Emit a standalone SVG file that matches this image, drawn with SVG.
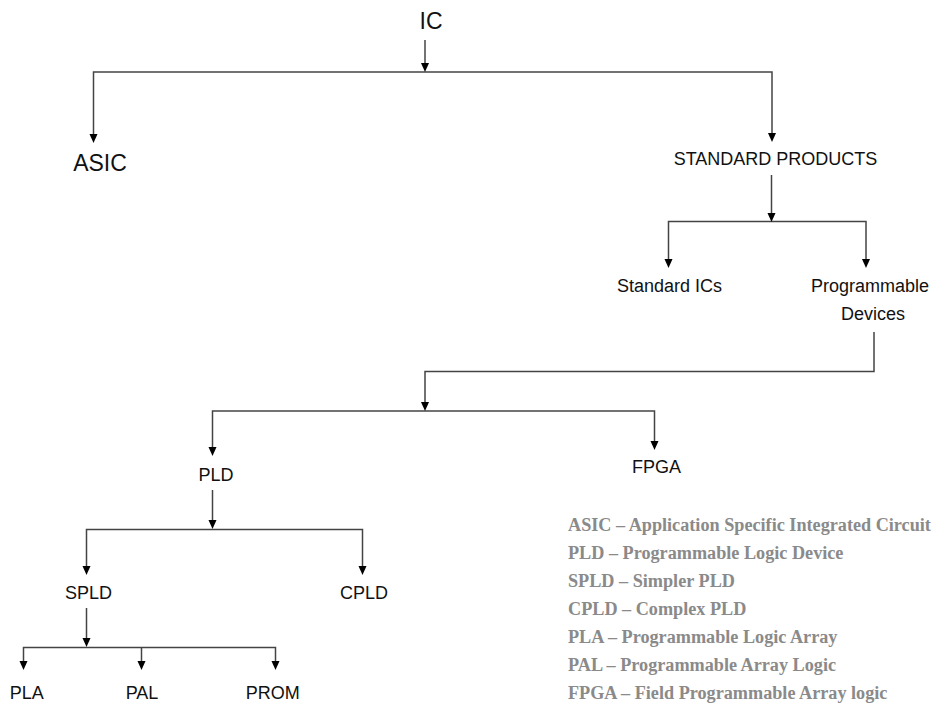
<svg xmlns="http://www.w3.org/2000/svg" width="936" height="704" viewBox="0 0 936 704">
  <style>
    .node { font-family: "Liberation Sans", Arial, sans-serif; fill: #111; text-anchor: middle; }
    .big { font-size: 23px; }
    .med { font-size: 18px; }
    .legend { font-family: "Liberation Serif", "Times New Roman", serif; font-weight: bold; font-size: 18.2px; fill: #8a8a8a; }
    .conn { fill: none; stroke: #444; stroke-width: 1.5; }
    .head { fill: #000; }
  </style>
  <rect width="936" height="704" fill="#fff"/>

  <g id="connectors">
    <path class="conn" d="M425,40 V64"/>
    <path class="conn" d="M93.5,134 V72 H772 V134"/>
    <path class="conn" d="M771.5,175 V213"/>
    <path class="conn" d="M668.5,260 V221.5 H866 V260"/>
    <path class="conn" d="M874,332 V371.5 H425 V403"/>
    <path class="conn" d="M212.5,448 V411 H654.5 V443"/>
    <path class="conn" d="M212.5,490 V520"/>
    <path class="conn" d="M86.5,567 V529.5 H362.5 V567"/>
    <path class="conn" d="M86.5,608 V639"/>
    <path class="conn" d="M23.5,662 V647.5 H275.5 V662"/>
    <path class="conn" d="M141.5,647.5 V662"/>
    <g class="head">
      <path d="M421,63 L429,63 L425,72 Z"/>
      <path d="M89.5,134 L97.5,134 L93.5,143 Z"/>
      <path d="M768,133 L776,133 L772,142 Z"/>
      <path d="M767.5,213 L775.5,213 L771.5,222 Z"/>
      <path d="M664.5,259 L672.5,259 L668.5,268 Z"/>
      <path d="M862,259 L870,259 L866,268 Z"/>
      <path d="M421,402 L429,402 L425,411 Z"/>
      <path d="M208.5,447 L216.5,447 L212.5,456 Z"/>
      <path d="M650.5,441 L658.5,441 L654.5,450 Z"/>
      <path d="M208.5,520 L216.5,520 L212.5,529 Z"/>
      <path d="M82.5,566 L90.5,566 L86.5,575 Z"/>
      <path d="M358.5,566 L366.5,566 L362.5,575 Z"/>
      <path d="M82.5,638 L90.5,638 L86.5,647 Z"/>
      <path d="M19.5,661 L27.5,661 L23.5,670 Z"/>
      <path d="M137.5,661 L145.5,661 L141.5,670 Z"/>
      <path d="M271.5,661 L279.5,661 L275.5,670 Z"/>
    </g>
  </g>

  <g id="node-ic"><text class="node big" x="431" y="29">IC</text></g>
  <g id="node-asic"><text class="node big" x="100" y="171">ASIC</text></g>
  <g id="node-standard-products"><text class="node med" x="775.5" y="165">STANDARD PRODUCTS</text></g>
  <g id="node-standard-ics"><text class="node med" x="669.5" y="292">Standard ICs</text></g>
  <g id="node-programmable-devices">
    <text class="node med" x="870" y="292">Programmable</text>
    <text class="node med" x="873" y="320">Devices</text>
  </g>
  <g id="node-pld"><text class="node med" x="216" y="481">PLD</text></g>
  <g id="node-fpga"><text class="node med" x="656.5" y="473">FPGA</text></g>
  <g id="node-spld"><text class="node med" x="88.5" y="599">SPLD</text></g>
  <g id="node-cpld"><text class="node med" x="364" y="599">CPLD</text></g>
  <g id="node-pla"><text class="node med" x="26.7" y="699">PLA</text></g>
  <g id="node-pal"><text class="node med" x="142" y="699">PAL</text></g>
  <g id="node-prom"><text class="node med" x="272.7" y="699">PROM</text></g>

  <g id="legend">
    <text class="legend" x="568" y="531">ASIC – Application Specific Integrated Circuit</text>
    <text class="legend" x="568" y="559">PLD – Programmable Logic Device</text>
    <text class="legend" x="568" y="587">SPLD – Simpler PLD</text>
    <text class="legend" x="568" y="615">CPLD – Complex PLD</text>
    <text class="legend" x="568" y="643">PLA – Programmable Logic Array</text>
    <text class="legend" x="568" y="671">PAL – Programmable Array Logic</text>
    <text class="legend" x="568" y="699">FPGA – Field Programmable Array logic</text>
  </g>
</svg>
